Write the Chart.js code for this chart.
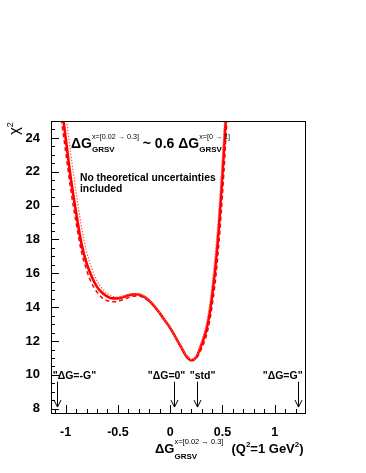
<!DOCTYPE html>
<html>
<head>
<meta charset="utf-8">
<script src="https://cdn.jsdelivr.net/npm/chart.js@4.4.0/dist/chart.umd.min.js"></script>
<style>
html,body{margin:0;padding:0;background:#fff;}
#wrap{width:366px;height:473px;position:relative;}
</style>
</head>
<body>
<div id="wrap"><canvas id="chart" width="366" height="473"></canvas></div>
<script>
// scan points of dG (x = 0.02 -> 0.3)
const dG = [-1.05,-1.00,-0.95,-0.90,-0.85,-0.80,-0.75,-0.70,-0.65,-0.60,-0.55,-0.50,-0.45,-0.40,-0.35,-0.30,-0.25,-0.20,-0.15,-0.10,-0.05,0.00,0.05,0.10,0.15,0.20,0.25,0.30,0.35,0.40,0.45,0.50,0.55];
const chi2Std = [26.5,24.0,21.6,19.6,17.8,16.6,15.8,15.2,14.85,14.62,14.52,14.52,14.6,14.7,14.76,14.75,14.62,14.38,14.05,13.65,13.22,12.78,12.25,11.7,11.15,10.87,11.05,11.8,12.75,14.6,17.5,21.8,27.0];
const chi2Dash = [25.5,23.2,20.9,19.0,17.3,16.2,15.4,14.9,14.55,14.38,14.32,14.35,14.45,14.57,14.65,14.66,14.55,14.33,14.02,13.63,13.2,12.76,12.23,11.68,11.13,10.85,10.98,11.55,12.4,14.0,16.6,20.6,25.8];
const chi2Dot = [28.0,25.5,23.0,20.8,18.8,17.3,16.3,15.55,15.1,14.8,14.65,14.6,14.65,14.75,14.8,14.78,14.65,14.4,14.07,13.67,13.24,12.8,12.27,11.72,11.18,10.9,11.12,12.0,13.15,15.3,18.5,23.0,28.5];

const xTicks = [-1, -0.5, 0, 0.5, 1];
const yTicks = [8, 10, 12, 14, 16, 18, 20, 22, 24];

// arrows marking model values
const markX = [-1.087, 0.04, 0.26, 1.22];
const markLabelX = [-1.124, -0.215, 0.187, 0.885];
const markLabels = ['"ΔG=-G"', '"ΔG=0"', '"std"', '"ΔG=G"'];

const FONT = '"Liberation Sans", Arial, Helvetica, sans-serif';

function pts(ys){ return dG.map((x,i)=>({x:x, y:ys[i]})); }

// draws a list of text pieces; {sup, sub} pieces are stacked at the same x
function rich(ctx, x, y, parts){
    parts.forEach(p => {
        if(p.t !== undefined){
            ctx.font = (p.bold ? 'bold ' : '') + p.size + 'px ' + FONT;
            ctx.fillText(p.t, x, y + (p.dy||0));
            x += ctx.measureText(p.t).width;
        } else {
            ctx.font = p.supSize + 'px ' + FONT;
            ctx.fillText(p.sup, x, y + p.supDy);
            const w1 = ctx.measureText(p.sup).width;
            ctx.font = 'bold ' + p.subSize + 'px ' + FONT;
            ctx.fillText(p.sub, x, y + p.subDy);
            const w2 = ctx.measureText(p.sub).width;
            x += Math.max(w1, w2) + (p.gap||0);
        }
    });
    return x;
}

const decor = {
    id: 'decor',
    afterDraw(chart){
        const ctx = chart.ctx;
        const a = chart.chartArea;
        const sx = chart.scales.x, sy = chart.scales.y;
        ctx.save();
        ctx.strokeStyle = '#000';
        ctx.fillStyle = '#000';
        ctx.lineWidth = 1;
        // frame
        ctx.strokeRect(Math.round(a.left)+0.5, Math.round(a.top)+0.5, Math.round(a.right-a.left), Math.round(a.bottom-a.top));
        // x ticks (inside)
        ctx.beginPath();
        for(let i=-11;i<=12;i++){
            const v = i/10;
            const px = Math.round(sx.getPixelForValue(v))+0.5;
            const len = (i%5===0) ? 8 : 4;
            ctx.moveTo(px, a.bottom); ctx.lineTo(px, a.bottom-len);
        }
        // y ticks (inside)
        for(let i=16;i<=50;i++){
            const v = i/2;
            const py = Math.round(sy.getPixelForValue(v))+0.5;
            const len = (i%4===0) ? 8 : 4;
            ctx.moveTo(a.left, py); ctx.lineTo(a.left+len, py);
        }
        ctx.stroke();

        // arrows
        ctx.textBaseline = 'alphabetic';
        ctx.textAlign = 'left';
        markX.forEach((mx,i)=>{
            const px = Math.round(sx.getPixelForValue(mx))+0.5;
            const y0 = sy.getPixelForValue(9.6), y1 = sy.getPixelForValue(8.1);
            ctx.beginPath();
            ctx.moveTo(px, y0); ctx.lineTo(px, y1);
            ctx.moveTo(px-3.5, y1-7); ctx.lineTo(px, y1); ctx.lineTo(px+3.5, y1-7);
            ctx.stroke();
            ctx.font = 'bold 10.5px ' + FONT;
            ctx.fillText(markLabels[i], sx.getPixelForValue(markLabelX[i]), sy.getPixelForValue(9.78));
        });

        // y title
        ctx.save();
        ctx.translate(a.left-32, a.top+7);
        ctx.rotate(-Math.PI/2);
        ctx.textAlign = 'left';
        rich(ctx, -7, 0, [{t:'χ', size:15}, {t:'2', size:9, dy:-6}]);
        ctx.restore();

        // x title
        rich(ctx, a.left+104, a.bottom+40, [
            {t:'ΔG', size:13, bold:true},
            {sup:'x=[0.02 → 0.3]', supSize:7.5, supDy:-9, sub:'GRSV', subSize:8, subDy:6, gap:8},
            {t:'(Q', size:13, bold:true},
            {t:'2', size:8, bold:true, dy:-6},
            {t:'=1 GeV', size:13, bold:true},
            {t:'2', size:8, bold:true, dy:-6},
            {t:')', size:13, bold:true}
        ]);

        // statement in the frame
        rich(ctx, a.left+20, a.top+27, [
            {t:'ΔG', size:14, bold:true},
            {sup:'x=[0.02 → 0.3]', supSize:7.2, supDy:-9, sub:'GRSV', subSize:8, subDy:4, gap:0},
            {t:' ~ 0.6 ΔG', size:14, bold:true},
            {sup:'x=[0 → 1]', supSize:7.2, supDy:-9, sub:'GRSV', subSize:8, subDy:4}
        ]);
        ctx.font = 'bold 10.3px ' + FONT;
        ctx.fillText('No theoretical uncertainties', a.left+29, a.top+60);
        ctx.fillText('included', a.left+29, a.top+71);
        ctx.restore();
    }
};

new Chart(document.getElementById('chart'), {
    type: 'scatter',
    data: {
        datasets: [
            { label:'dotted', data: pts(chi2Dot), showLine:true, borderColor:'#ff5c5c', borderWidth:1.2, borderDash:[1.5,1.5], pointRadius:0, cubicInterpolationMode:'monotone' },
            { label:'dashed', data: pts(chi2Dash), showLine:true, borderColor:'#ff0000', borderWidth:1.5, borderDash:[4,3], pointRadius:0, cubicInterpolationMode:'monotone' },
            { label:'std', data: pts(chi2Std), showLine:true, borderColor:'#ff0000', borderWidth:2.6, pointRadius:0, cubicInterpolationMode:'monotone' }
        ]
    },
    options: {
        responsive: false,
        animation: false,
        events: [],
        layout: { padding: { left: 0, top: 121, right: 61, bottom: 0 } },
        plugins: { legend:{display:false}, tooltip:{enabled:false} },
        scales: {
            x: {
                type: 'linear', min: -1.14, max: 1.29,
                afterBuildTicks: s => { s.ticks = xTicks.map(v => ({value:v})); },
                afterFit: s => { s.height = 60; },
                grid: { display:false },
                border: { display:false },
                ticks: { color:'#000', padding:4, maxRotation:0, font:{ family: FONT, size:12.5, weight:'bold' }, callback: v => String(v) }
            },
            y: {
                type: 'linear', min: 7.75, max: 25,
                afterBuildTicks: s => { s.ticks = yTicks.map(v => ({value:v})); },
                afterFit: s => { s.width = 51; },
                grid: { display:false },
                border: { display:false },
                ticks: { color:'#000', padding:3, font:{ family: FONT, size:13, weight:'bold' } }
            }
        }
    },
    plugins: [decor]
});
</script>
</body>
</html>
